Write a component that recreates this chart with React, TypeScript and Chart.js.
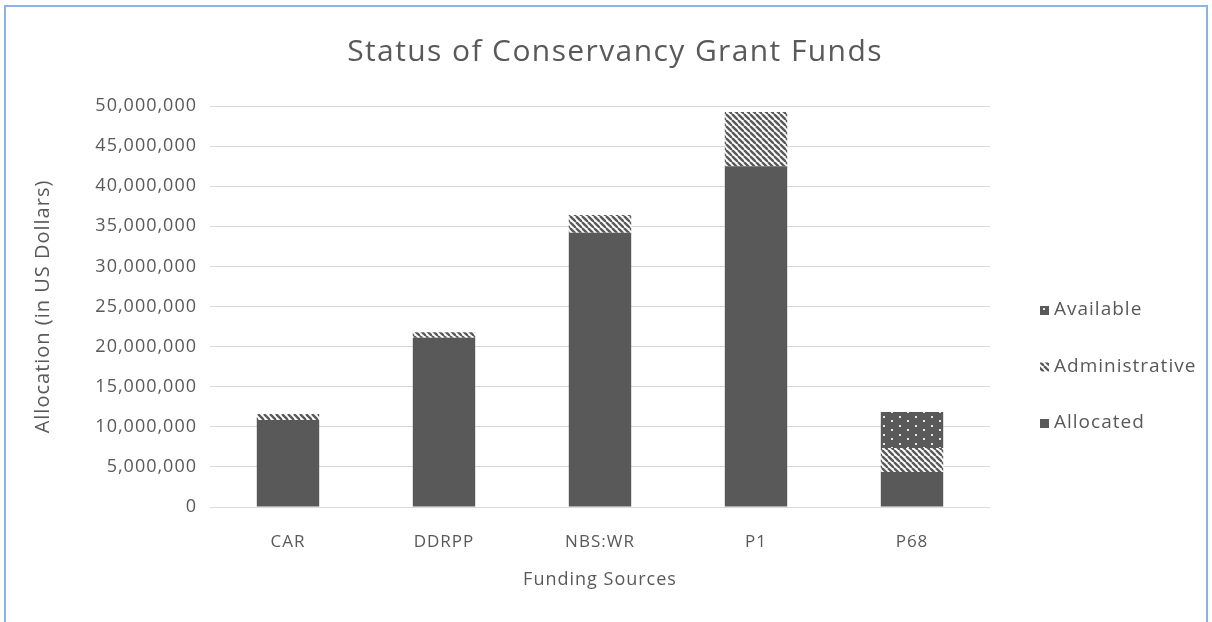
import React, { useEffect, useRef } from "react";
import { Chart, registerables } from "chart.js";

Chart.register(...registerables);

const categories = ["CAR", "DDRPP", "NBS:WR", "P1", "P68"];
const allocated = [10850000, 21100000, 34200000, 42500000, 4350000];
const administrative = [750000, 700000, 2200000, 6750000, 3000000];
const available = [0, 0, 0, 0, 4500000];
const yMax = 50000000;
const yStep = 5000000;

const DARK = "#595959";
const TEXT = "#595959";
const GRID = "#d9d9d9";
const FONT = "'Open Sans', 'Noto Sans', sans-serif";

function stripePattern(ctx: CanvasRenderingContext2D) {
  const s = 6;
  const c = document.createElement("canvas");
  c.width = s;
  c.height = s;
  const g = c.getContext("2d")!;
  g.fillStyle = "#ffffff";
  g.fillRect(0, 0, s, s);
  g.strokeStyle = DARK;
  g.lineWidth = 2.4;
  for (const k of [-s, 0, s]) {
    g.beginPath();
    g.moveTo(k, 0);
    g.lineTo(k + s, s);
    g.stroke();
  }
  return ctx.createPattern(c, "repeat")!;
}

function dotPattern(ctx: CanvasRenderingContext2D) {
  const w = 16;
  const h = 9;
  const c = document.createElement("canvas");
  c.width = w;
  c.height = h;
  const g = c.getContext("2d")!;
  g.fillStyle = DARK;
  g.fillRect(0, 0, w, h);
  g.fillStyle = "#e6e6e6";
  g.fillRect(3, 2, 2, 2);
  g.fillRect(11, 6, 2, 2);
  return ctx.createPattern(c, "repeat")!;
}

const spacingPlugin = {
  id: "letterSpacing",
  beforeLayout(chart: any) {
    (chart.ctx as any).letterSpacing = "1px";
  },
  beforeDraw(chart: any) {
    (chart.ctx as any).letterSpacing = "1px";
  },
};

const titlePlugin = {
  id: "customTitle",
  afterDraw(chart: any) {
    const { ctx } = chart;
    ctx.save();
    (ctx as any).letterSpacing = "1.4px";
    ctx.fillStyle = TEXT;
    ctx.font = `30px ${FONT}`;
    ctx.textAlign = "center";
    ctx.textBaseline = "middle";
    ctx.fillText("Status of Conservancy Grant Funds", 615, 52);
    ctx.restore();
  },
};

const legendPlugin = {
  id: "customLegend",
  afterDraw(chart: any) {
    const { ctx, chartArea } = chart;
    const items = chart.data.datasets
      .map((d: any) => ({ label: d.label, fill: d.backgroundColor }))
      .reverse();
    const x = chartArea.right + 50;
    let y = chartArea.top + 204;
    ctx.save();
    (ctx as any).letterSpacing = "1px";
    ctx.font = `19px ${FONT}`;
    ctx.textBaseline = "middle";
    items.forEach((it: any) => {
      ctx.fillStyle = it.fill;
      ctx.fillRect(x, y - 4, 9, 9);
      ctx.fillStyle = TEXT;
      ctx.fillText(it.label, x + 14, y);
      y += 56.5;
    });
    ctx.restore();
  },
};

export default function App() {
  const ref = useRef<HTMLCanvasElement>(null);
  useEffect(() => {
    const canvas = ref.current!;
    const ctx = canvas.getContext("2d")!;
    const chart = new Chart(canvas, {
      type: "bar",
      data: {
        labels: categories,
        datasets: [
          { label: "Allocated", data: allocated, backgroundColor: DARK },
          { label: "Administrative", data: administrative, backgroundColor: stripePattern(ctx) as any },
          { label: "Available", data: available, backgroundColor: dotPattern(ctx) as any },
        ],
      },
      options: {
        animation: false,
        responsive: false,
        devicePixelRatio: 1,
        layout: { padding: { left: 20, right: 222, top: 106, bottom: 0 } },
        datasets: { bar: { categoryPercentage: 1, barPercentage: 0.4 } } as any,
        plugins: {
          legend: { display: false },
          title: { display: false },
          tooltip: { enabled: false },
        },
        scales: {
          x: {
            stacked: true,
            grid: { display: false },
            border: { display: false },
            ticks: { color: TEXT, font: { family: FONT, size: 17 }, padding: 17 },
            title: {
              display: true,
              text: "Funding Sources",
              color: TEXT,
              font: { family: FONT, size: 18 },
              padding: { top: 0, bottom: 31 },
            },
            afterFit: (s: any) => {
              s.height = 115;
            },
          },
          y: {
            stacked: true,
            min: 0,
            max: yMax,
            ticks: {
              stepSize: yStep,
              color: TEXT,
              font: { family: FONT, size: 18 },
              padding: 13,
              callback: (v: any) => Number(v).toLocaleString("en-US"),
            },
            grid: { color: GRID, lineWidth: 1, drawTicks: false },
            border: { display: false },
            title: {
              display: true,
              text: "Allocation (in US Dollars)",
              color: TEXT,
              font: { family: FONT, size: 20 },
              padding: { top: 11, bottom: 0 },
            },
            afterFit: (s: any) => {
              s.width = 190;
            },
          },
        },
      },
      plugins: [spacingPlugin, titlePlugin, legendPlugin],
    });
    return () => chart.destroy();
  }, []);
  return (
    <div style={{ position: "fixed", left: 0, top: 0, width: 1212, height: 622, background: "#fff", overflow: "hidden" }}>
      <div
        style={{
          position: "absolute",
          left: 4,
          top: 5,
          width: 1204,
          height: 640,
          border: "2px solid #8db3e2",
          boxSizing: "border-box",
        }}
      />
      <canvas ref={ref} width={1212} height={622} style={{ position: "absolute", left: 0, top: 0, width: 1212, height: 622 }} />
    </div>
  );
}
